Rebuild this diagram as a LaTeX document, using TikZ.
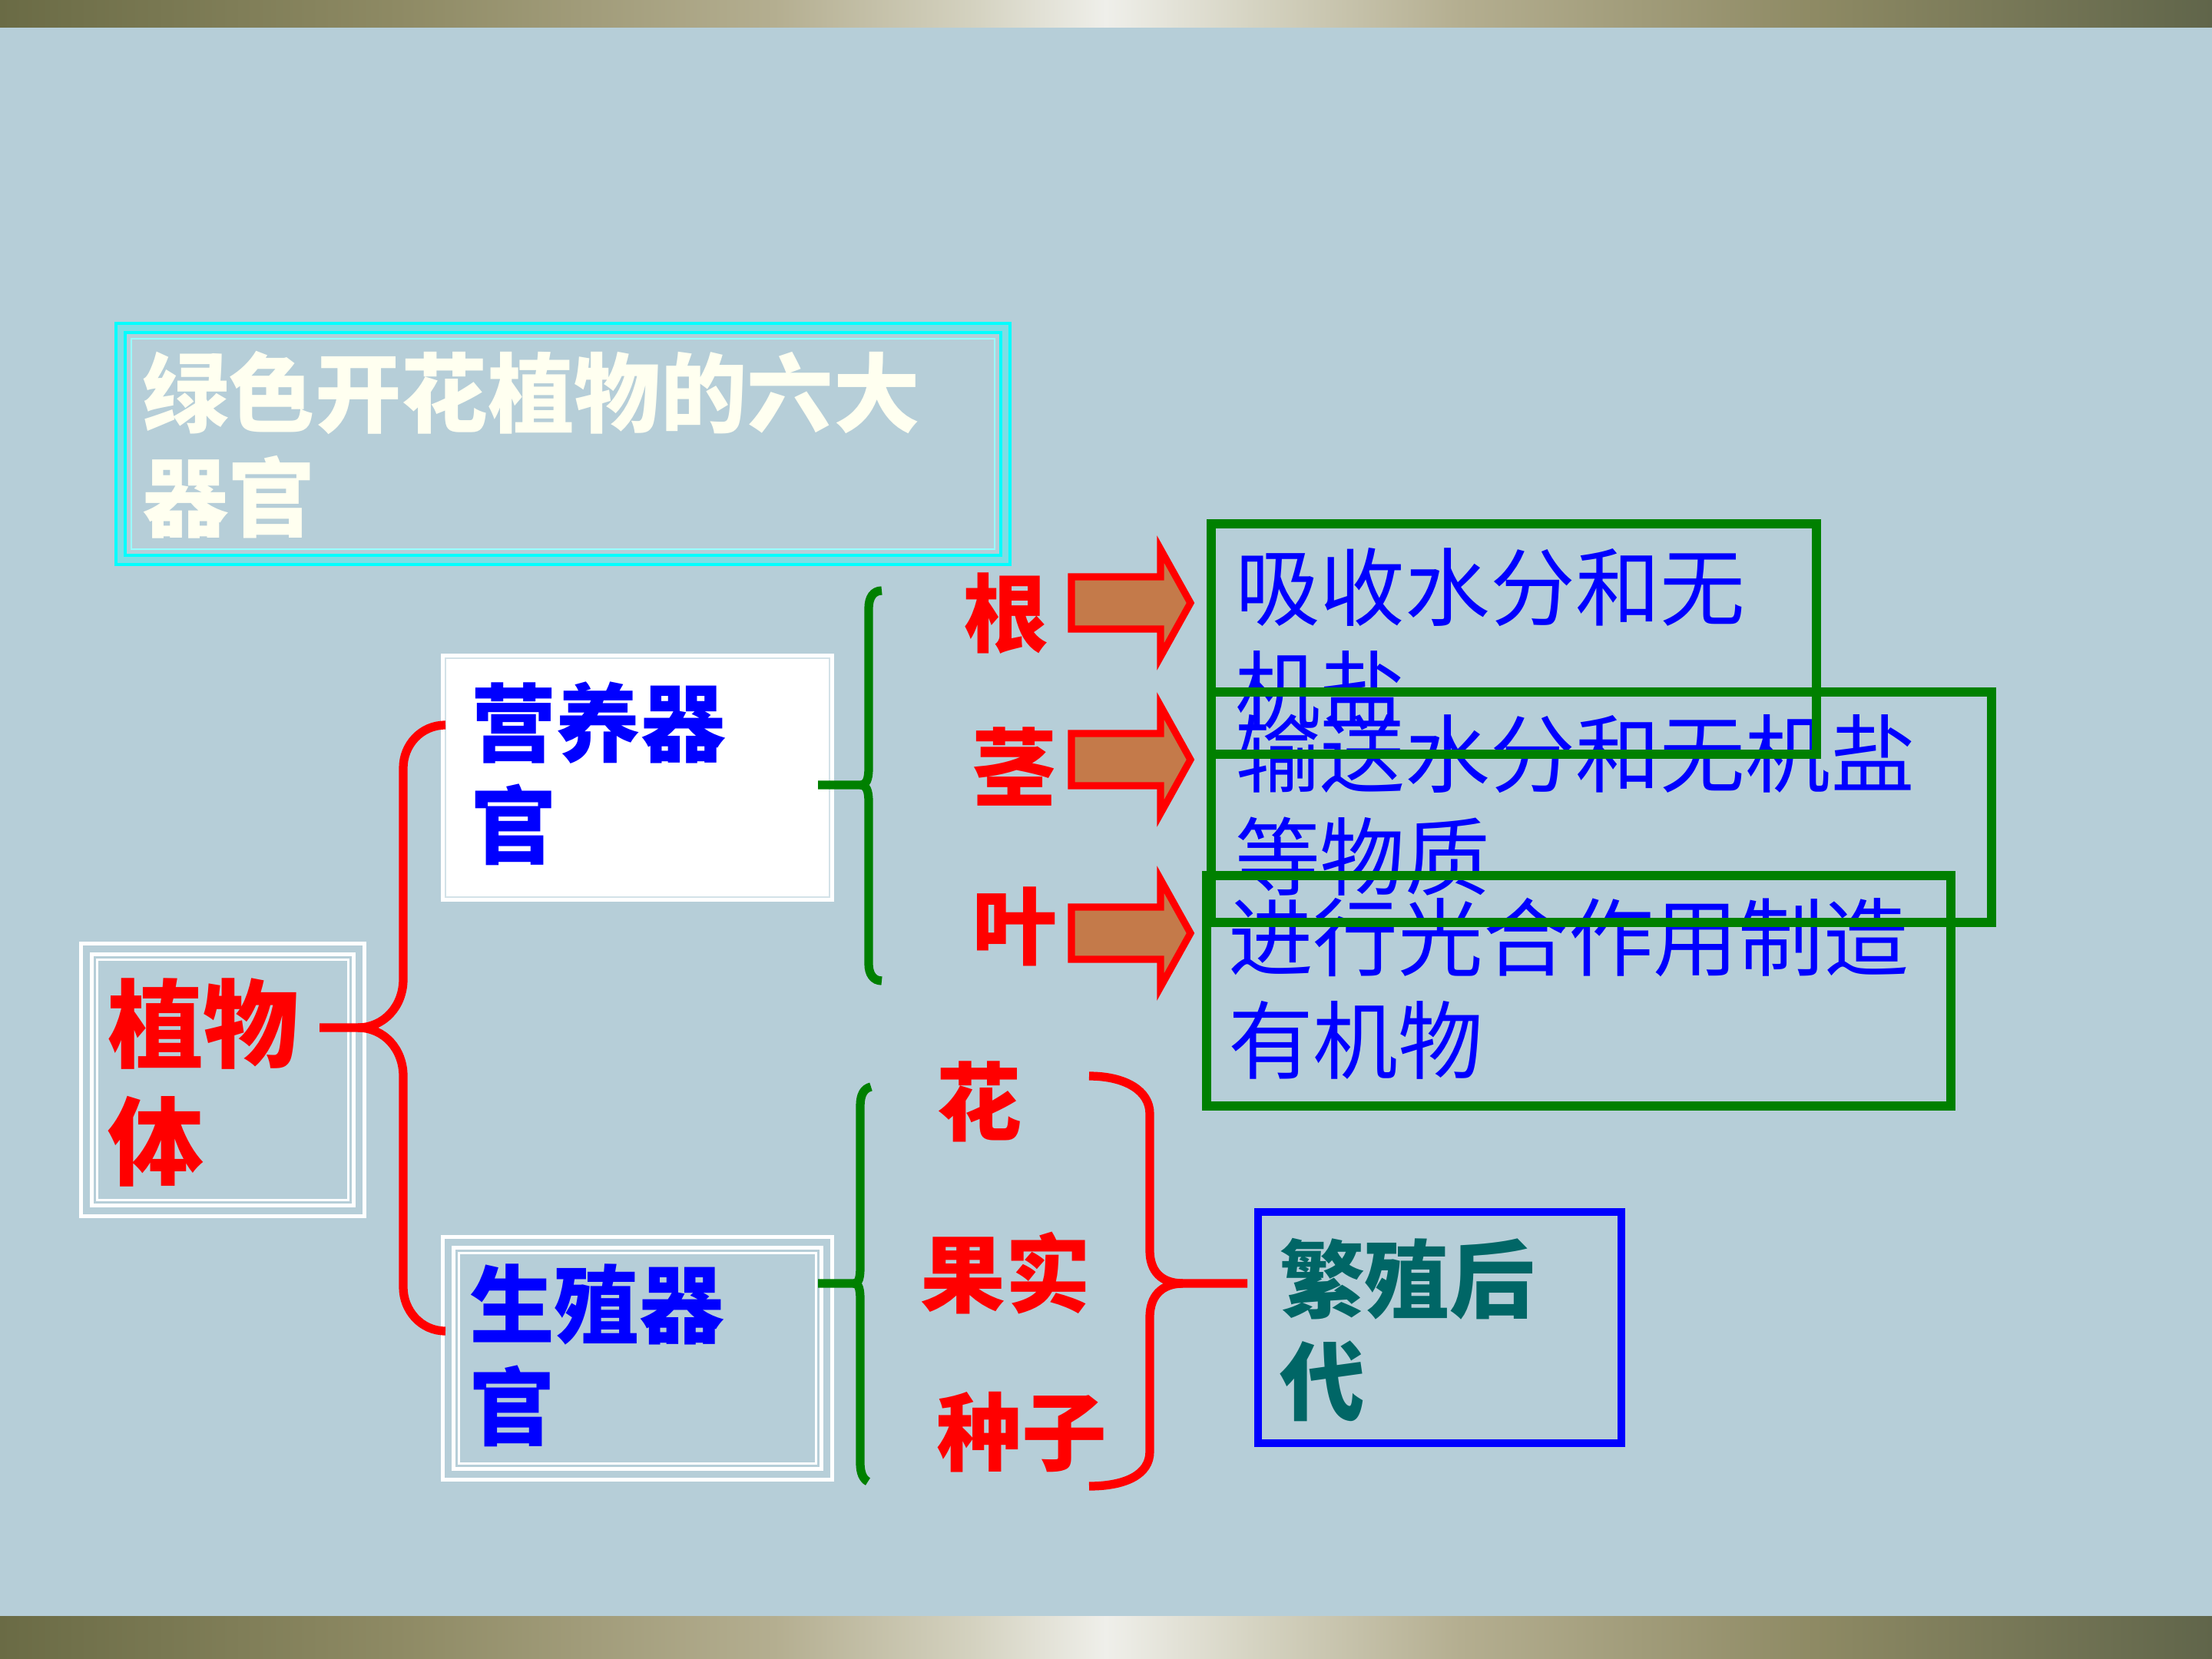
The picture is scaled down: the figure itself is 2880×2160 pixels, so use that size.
\documentclass[tikz,border=0pt]{standalone}
\usepackage{fontspec}
\newfontfamily\cjk{Noto Sans CJK SC}
\definecolor{SlideBg}{HTML}{B6CED8}
\definecolor{BandDark}{HTML}{6A6B45}
\definecolor{BandMid}{HTML}{8E8A64}
\definecolor{BandSand}{HTML}{B4AE90}
\definecolor{BandPale}{HTML}{D4D2C0}
\definecolor{BandShine}{HTML}{EFEFEA}
\definecolor{BandRight}{HTML}{60654A}
\definecolor{LeafGreen}{HTML}{008000}
\definecolor{ArrowFill}{HTML}{C47A4A}
\definecolor{DeepTeal}{HTML}{006666}
\definecolor{TitleIvory}{HTML}{FFFFF0}
\definecolor{FrameCyan}{HTML}{00FFFF}
\pgfdeclarehorizontalshading{metalband}{100bp}{color(0bp)=(BandDark); color(25bp)=(BandDark); color(34bp)=(BandMid); color(42.5bp)=(BandSand); color(47bp)=(BandPale); color(50bp)=(BandShine); color(53.5bp)=(BandPale); color(58bp)=(BandSand); color(66bp)=(BandMid); color(75bp)=(BandRight); color(100bp)=(BandRight)}

\begin{document}
\begin{tikzpicture}[x=0.01cm, y=-0.01cm,
  every node/.style={inner sep=0pt, outer sep=0pt},
  titletext/.style={font=\cjk\bfseries\fontsize{32}{38.4}\selectfont, text=TitleIvory, align=left, anchor=base west},
  rootname/.style={font=\cjk\bfseries\fontsize{35.5}{43.5}\selectfont, text=red, align=left, anchor=base west},
  part/.style={font=\cjk\bfseries\fontsize{31.5}{37.6}\selectfont, text=blue, align=left, anchor=base west},
  organ/.style={font=\cjk\bfseries\fontsize{31.5}{37.6}\selectfont, text=red, anchor=base},
  func/.style={font=\cjk\fontsize{31.5}{38}\selectfont, text=blue, align=left, anchor=base west},
  fruit/.style={font=\cjk\bfseries\fontsize{31.5}{37.8}\selectfont, text=DeepTeal, align=left, anchor=base west},
  whiteframe/.style={draw=white, line width=1.4pt, double=SlideBg, double distance=2.6pt},
  thinframe/.style={draw=white, line width=0.85pt},
  greenframe/.style={draw=LeafGreen, line width=3.4pt, minimum height=3cm},
  blueframe/.style={draw=blue, line width=2.8pt},
  redbrace/.style={draw=red, line width=3.2pt},
  greenbrace/.style={draw=LeafGreen, line width=3.2pt},
  blockarr/.style={draw=red, fill=ArrowFill, line width=2.6pt}
]
\useasboundingbox (0,0) rectangle (2880,2160);
\fill[SlideBg] (0,0) rectangle (2880,2160);
\shade[shading=metalband] (0,0) rectangle (2880,35);
\shade[shading=metalband] (0,2104) rectangle (2880,2160);

% title
\node[draw=FrameCyan, line width=1.1pt, double=FrameCyan!30!SlideBg, double distance=2.3pt,
  minimum width=11.52cm, minimum height=3.02cm] (titleframe) at (733,578) {};
\draw[FrameCyan!40!white, line width=0.6pt] ([shift={(14,14)}]titleframe.north west) rectangle ([shift={(-14,-14)}]titleframe.south east);
\node[titletext] (title) at (185,690) {绿色开花植物的六大\\器官};

% frames on the left
\node[whiteframe, minimum width=3.55cm, minimum height=3.41cm] (zwframe) at (290,1406) {};
\draw[thinframe] ([shift={(14,14)}]zwframe.north west) rectangle ([shift={(-14,-14)}]zwframe.south east);
\node[fill=white, draw=white, line width=0.85pt, minimum width=5.09cm, minimum height=3.2cm] (yyframe) at (830,1012.5) {};
\draw[SlideBg!60!white, line width=0.6pt] ([shift={(5,5)}]yyframe.north west) rectangle ([shift={(-5,-5)}]yyframe.south east);
\node[whiteframe, minimum width=4.93cm, minimum height=3.02cm] (szframe) at (830,1768.5) {};
\draw[thinframe] ([shift={(14,14)}]szframe.north west) rectangle ([shift={(-14,-14)}]szframe.south east);

\node[rootname] (zw) at (140,1533) {植物\\体};
\node[part] (yy) at (613,1116) {营养器\\官};
\node[part] (sz) at (611,1873) {生殖器\\官};

\node[organ] (gen) at (1310,840) {根};
\node[organ] (jing) at (1321,1041) {茎};
\node[organ] (ye) at (1321,1247) {叶};
\node[organ] (hua) at (1275,1476) {花};
\node[organ] (guoshi) at (1309,1700) {果实};
\node[organ] (zhongzi) at (1330,1906) {种子};

\node[func] (t1) at (1608,940) {吸收水分和无\\机盐};
\node[func] (t2) at (1608,1157) {输送水分和无机盐\\等物质};
\node[func] (t3) at (1599,1396) {进行光合作用制造\\有机物};
\node[fruit] (fz) at (1666,1840) {繁殖后\\代};

% braces
\coordinate (zw-out) at (416,1338);
\coordinate (yy-in) at (580,944);
\coordinate (sz-in) at (580,1733);
\draw[redbrace] (zw-out) -- (466,1338) .. controls (500,1338) and (525,1310) .. (525,1275) -- (525,1000) .. controls (525,970) and (548,944) .. (yy-in);
\draw[redbrace] (466,1338) .. controls (500,1338) and (525,1366) .. (525,1401) -- (525,1676) .. controls (525,1706) and (548,1733) .. (sz-in);

\coordinate (yy-out) at (1065,1022);
\coordinate (sz-out) at (1065,1671);
\draw[greenbrace] (yy-out) -- (1120,1022) .. controls (1128,1022) and (1131,1015) .. (1131,1000) -- (1131,792) .. controls (1131,778) and (1137,769) .. (1148,769);
\draw[greenbrace] (1120,1022) .. controls (1128,1022) and (1131,1029) .. (1131,1044) -- (1131,1255) .. controls (1131,1268) and (1137,1277) .. (1148,1277);
\draw[greenbrace] (sz-out) -- (1112,1671) .. controls (1118,1671) and (1120,1664) .. (1120,1650) -- (1120,1440) .. controls (1120,1425) and (1125,1417) .. (1134,1415);
\draw[greenbrace] (1112,1671) .. controls (1118,1671) and (1120,1678) .. (1120,1692) -- (1120,1905) .. controls (1120,1918) and (1124,1926) .. (1130,1929);

\coordinate (fz-in) at (1624,1671);
\draw[redbrace] (1418,1401) .. controls (1465,1401) and (1497,1420) .. (1497,1450) -- (1497,1628) .. controls (1497,1655) and (1512,1671) .. (1540,1671) -- (fz-in);
\draw[redbrace] (1540,1671) .. controls (1512,1671) and (1497,1688) .. (1497,1715) -- (1497,1890) .. controls (1497,1920) and (1465,1935) .. (1418,1935);

% block arrows
\foreach \yc in {785,989,1215}
  \draw[blockarr] (1395,\yc-34) -- (1511,\yc-34) -- (1511,\yc-70) -- (1550,\yc) -- (1511,\yc+70) -- (1511,\yc+34) -- (1395,\yc+34) -- cycle;

% function frames
\node[greenframe, minimum width=7.88cm] (b1) at (1971,832) {};
\node[greenframe, minimum width=10.16cm] (b2) at (2085,1051) {};
\node[greenframe, minimum width=9.69cm] (b3) at (2055.5,1290) {};
\node[blueframe, minimum width=4.73cm, minimum height=3.01cm] (fzframe) at (1874.5,1728.5) {};
\end{tikzpicture}
\end{document}
